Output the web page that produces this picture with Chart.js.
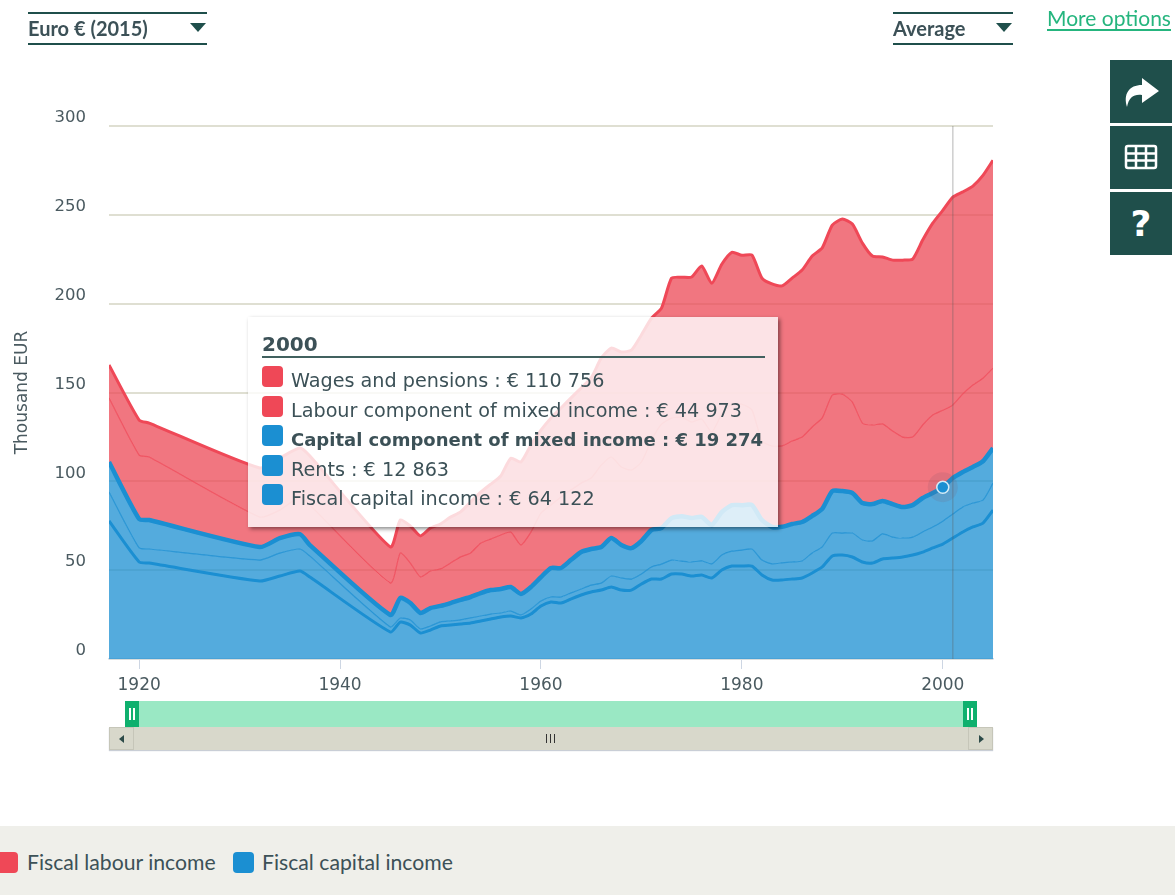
<!DOCTYPE html>
<html>
<head>
<meta charset="utf-8">
<title>Fiscal income</title>
<script src="https://cdn.jsdelivr.net/npm/chart.js@4/dist/chart.umd.min.js"></script>
<style>
    html, body { margin: 0; padding: 0; background: #fff; }
    body { position: relative; width: 1175px; height: 895px; overflow: hidden; font-family: Lato, sans-serif; color: #3c5157; }
    #incomeChart { position: absolute; left: 0; top: 0; }
    .select { position: absolute; top: 12px; height: 29px; border-top: 2px solid #1f4f4b; border-bottom: 2px solid #1f4f4b; font-weight: 700; font-size: 20px; line-height: 29px; color: #3c5157; }
    .select i { position: absolute; right: 1px; top: 9px; width: 0; height: 0; border-left: 8px solid transparent; border-right: 8px solid transparent; border-top: 9px solid #1f4f4b; }
    #more { position: absolute; left: 1047px; top: 6px; font-size: 21px; line-height: 23px; color: #25b57e; border-bottom: 2px solid #25b57e; }
    .btn { position: absolute; left: 1110px; width: 62px; height: 63px; background: #1f4f4b; color: #fff; text-align: center; }
    .btn svg { position: absolute; left: 0; top: 0; }
    #tip { position: absolute; left: 248px; top: 317px; width: 530px; height: 210px; background: rgba(255, 255, 255, 0.8); box-shadow: 2px 2px 4px rgba(0, 0, 0, 0.45); font-family: "DejaVu Sans", sans-serif; font-size: 19.2px; color: #3c5157; }
    #tip .head { position: absolute; left: 14px; top: 14px; width: 503px; height: 25px; border-bottom: 2px solid #41615f; font-weight: 700; font-size: 20px; line-height: 26px; }
    #tip .row { position: absolute; left: 14px; height: 22px; white-space: nowrap; line-height: 30px; padding-left: 29px; }
    .sw { position: absolute; left: 0; top: 0; width: 21px; height: 21px; border-radius: 4px; }
    #nav { position: absolute; left: 125px; top: 701px; width: 852px; height: 26px; background: #9ae8c4; }
    .handle { position: absolute; top: 0; width: 14px; height: 26px; background: #0fb06e; }
    .handle b { position: absolute; top: 7px; width: 2px; height: 12px; background: #fff; }
    #bar { position: absolute; left: 109px; top: 727px; width: 884px; height: 23px; background: #d8d8cb; box-shadow: 0 1px 1px #c9ced6; }
    .arrow { position: absolute; top: 0; width: 23px; height: 21px; border: 1px solid #c6c6b9; }
    .arrow i { position: absolute; top: 7px; width: 0; height: 0; border-top: 4px solid transparent; border-bottom: 4px solid transparent; }
    .grip { position: absolute; top: 7px; width: 1px; height: 9px; background: #333; }
    #legend { position: absolute; left: 0; top: 826px; width: 1175px; height: 69px; background: #efefea; font-size: 21.2px; }
    #legend span { position: absolute; top: 23px; line-height: 26px; }
    #legend .sw { top: 26px; }
</style>
</head>
<body>
<canvas id="incomeChart" width="1175" height="720"></canvas>

<div class="select" style="left:28px;width:179px">Euro € (2015)<i></i></div>
<div class="select" style="left:893px;width:120px">Average<i></i></div>
<div id="more">More options</div>

<div class="btn" style="top:60px">
    <svg width="62" height="63" viewBox="0 0 62 63"><path d="M32 18 L49 31 L32 43 L32 35 C24 34 19 37 17 47 C13 34 19 25 32 25 Z" fill="#fff"/></svg>
</div>
<div class="btn" style="top:126px">
    <svg width="62" height="63" viewBox="0 0 62 63"><g fill="none" stroke="#fff" stroke-width="2.5"><rect x="16" y="20" width="30" height="22" rx="2"/><path d="M16 27.5H46M16 34.5H46M26 20V42M36 20V42"/></g></svg>
</div>
<div class="btn" style="top:192px;font:700 36px/63px 'DejaVu Sans',sans-serif">?</div>

<div id="tip">
    <div class="head" id="tipHead"></div>
</div>

<div id="nav">
    <div class="handle" style="left:0"><b style="left:4px"></b><b style="left:8px"></b></div>
    <div class="handle" style="right:0"><b style="left:4px"></b><b style="left:8px"></b></div>
</div>
<div id="bar">
    <div class="arrow" style="left:0"><i style="left:9px;border-right:5px solid #2c4a48"></i></div>
    <div class="arrow" style="right:0"><i style="left:10px;border-left:5px solid #2c4a48"></i></div>
    <div class="grip" style="left:437px"></div><div class="grip" style="left:441px"></div><div class="grip" style="left:445px"></div>
</div>

<div id="legend">
    <div class="sw" style="left:-3px;background:#ef4857"></div><span style="left:27px">Fiscal labour income</span>
    <div class="sw" style="left:233px;background:#1b8fd2"></div><span style="left:262px">Fiscal capital income</span>
</div>

<script>
// years with a value, the early period is sparse
const years = [1917, 1920, 1921, 1932, 1934, 1936, 1937, 1945, 1946, 1947, 1948, 1949,
    1950, 1951, 1952, 1953, 1954, 1955, 1956, 1957, 1958, 1959,
    1960, 1961, 1962, 1963, 1964, 1965, 1966, 1967, 1968, 1969,
    1970, 1971, 1972, 1973, 1974, 1975, 1976, 1977, 1978, 1979,
    1980, 1981, 1982, 1983, 1984, 1985, 1986, 1987, 1988, 1989,
    1990, 1991, 1992, 1993, 1994, 1995, 1996, 1997, 1998, 1999,
    2000, 2001, 2002, 2003, 2004, 2005];

// thousand EUR
const fiscalCapital = [77.7, 54.6, 54.0, 43.9, 46.7, 49.5, 46.1, 15.2, 20.8, 19.1, 14.6, 16.3,
    18.6, 19.1, 19.7, 20.3, 21.4, 22.5, 23.6, 24.2, 23.1, 25.3,
    29.8, 32.1, 31.5, 33.8, 36.0, 37.7, 38.8, 40.5, 38.8, 38.8,
    42.2, 45.0, 45.0, 47.8, 47.8, 46.7, 47.3, 45.6, 50.1, 52.3,
    52.3, 52.3, 47.3, 44.5, 44.5, 45.0, 45.6, 48.4, 51.8, 58.0,
    58.5, 57.4, 54.6, 54.0, 56.3, 56.8, 57.4, 58.5, 60.2, 62.5,
    64.7, 68.1, 71.5, 74.3, 76.5, 83.8];
const rents = [16.3, 7.9, 7.9, 11.8, 12.9, 12.4, 11.8, 2.8, 2.3, 2.8, 2.3, 2.3,
    2.3, 2.3, 2.3, 2.8, 2.8, 2.8, 2.3, 2.8, 1.7, 2.8,
    2.8, 2.8, 3.4, 3.4, 3.4, 3.9, 3.9, 6.2, 6.8, 6.2,
    5.6, 6.8, 8.4, 7.9, 7.3, 7.9, 7.9, 7.9, 8.4, 8.4,
    9.0, 9.6, 8.4, 9.0, 9.6, 9.6, 9.6, 11.3, 11.3, 12.9,
    12.4, 13.5, 12.4, 12.4, 14.1, 11.8, 10.7, 10.1, 11.3, 11.8,
    12.9, 13.5, 14.1, 13.5, 12.9, 15.2];
const capitalMixed = [16.9, 16.3, 16.3, 7.3, 8.4, 8.4, 6.2, 6.8, 11.3, 9.6, 9.0, 10.1,
    9.0, 10.1, 11.3, 11.8, 12.9, 13.5, 13.5, 13.5, 11.8, 12.4,
    13.5, 16.3, 16.3, 18.6, 20.8, 20.3, 20.3, 21.4, 18.6, 17.4,
    18.6, 20.8, 20.3, 23.6, 25.3, 24.8, 24.8, 21.9, 24.2, 25.9,
    25.3, 24.8, 22.5, 20.8, 20.3, 21.4, 21.9, 20.8, 21.4, 23.6,
    23.6, 22.5, 20.8, 20.8, 18.6, 18.6, 17.4, 18.0, 19.1, 19.1,
    19.1, 20.3, 19.7, 20.3, 21.9, 19.7];
const labourMixed = [36.0, 36.0, 35.5, 16.9, 15.8, 20.8, 22.5, 18.0, 25.3, 22.5, 20.3, 20.8,
    20.8, 22.5, 24.2, 24.8, 28.1, 28.7, 30.4, 30.9, 27.6, 30.9,
    36.0, 35.5, 40.0, 39.4, 38.8, 40.0, 46.1, 45.6, 43.9, 43.9,
    44.5, 50.6, 58.5, 56.3, 55.7, 54.0, 55.1, 52.3, 55.1, 56.8,
    56.8, 53.5, 44.5, 45.6, 45.6, 46.7, 47.8, 50.1, 51.2, 54.0,
    54.6, 51.2, 45.0, 44.5, 43.3, 41.1, 39.4, 38.3, 41.1, 43.9,
    43.3, 41.1, 43.9, 46.1, 46.7, 45.0];
const wages = [18.6, 19.7, 19.1, 27.6, 29.3, 27.6, 27.6, 20.3, 18.6, 20.8, 23.1, 24.2,
    25.3, 25.9, 25.3, 28.7, 28.7, 30.9, 33.2, 41.6, 46.7, 49.0,
    46.7, 49.0, 50.1, 51.8, 53.5, 56.3, 60.2, 61.3, 64.7, 67.5,
    71.5, 68.6, 65.3, 78.8, 78.8, 81.6, 86.1, 83.8, 84.4, 85.5,
    83.8, 87.2, 91.7, 91.2, 90.0, 91.7, 94.0, 96.2, 95.7, 95.7,
    98.5, 100.2, 101.3, 95.1, 94.0, 96.2, 99.6, 100.2, 104.1, 108.0,
    112.5, 117.0, 113.7, 112.0, 114.2, 117.0];

const xTicks = [1920, 1940, 1960, 1980, 2000];
const yTicks = [0, 50, 100, 150, 200, 250, 300];

// what the hover box shows
const tipYear = 2000;
const crosshairYear = 2001;
const tipLabels = ['Wages and pensions', 'Labour component of mixed income', 'Capital component of mixed income', 'Rents', 'Fiscal capital income'];
const tipValues = ['110 756', '44 973', '19 274', '12 863', '64 122'];

const RED = '#ef4857';
const BLUE = '#1b8fd2';
const RED_FILL = 'rgba(236, 72, 85, 0.75)';
const BLUE_FILL = 'rgba(27, 143, 210, 0.75)';

function points(values) {
    return values.map(function (v, i) { return { x: years[i], y: v }; });
}

function area(label, values, line, fill, width, first) {
    return {
        label: label,
        data: points(values),
        borderColor: line,
        backgroundColor: fill,
        borderWidth: width,
        fill: first ? 'origin' : '-1',
        tension: 0.2,
        pointRadius: 0
    };
}

// crosshair and the highlighted point
const hoverPlugin = {
    id: 'hover',
    afterDatasetsDraw: function (chart) {
        const c = chart.ctx;
        const a = chart.chartArea;
        const xPix = chart.scales.x.getPixelForValue(crosshairYear);
        c.save();
        c.strokeStyle = 'rgba(90, 90, 90, 0.3)';
        c.lineWidth = 1.5;
        c.beginPath();
        c.moveTo(xPix, a.top);
        c.lineTo(xPix, a.bottom);
        c.stroke();

        const pt = chart.getDatasetMeta(2).data[years.indexOf(tipYear)];
        c.fillStyle = 'rgba(120, 80, 100, 0.15)';
        c.beginPath();
        c.arc(pt.x, pt.y, 15, 0, Math.PI * 2);
        c.fill();
        c.fillStyle = BLUE;
        c.strokeStyle = '#d5ecf7';
        c.lineWidth = 1.5;
        c.beginPath();
        c.arc(pt.x, pt.y, 6, 0, Math.PI * 2);
        c.fill();
        c.stroke();
        c.restore();
    }
};

new Chart(document.getElementById('incomeChart').getContext('2d'), {
    type: 'line',
    data: {
        datasets: [
            area('Fiscal capital income', fiscalCapital, BLUE, BLUE_FILL, 3, true),
            area('Rents', rents, 'rgba(27, 143, 210, 0.8)', BLUE_FILL, 1.2),
            area('Capital component of mixed income', capitalMixed, BLUE, BLUE_FILL, 4.5),
            area('Labour component of mixed income', labourMixed, 'rgba(239, 72, 87, 0.8)', RED_FILL, 1.2),
            area('Wages and pensions', wages, RED, RED_FILL, 3)
        ]
    },
    plugins: [hoverPlugin],
    options: {
        responsive: false,
        animation: false,
        events: [],
        layout: { padding: { left: 0, right: 182, top: 126, bottom: 0 } },
        plugins: { legend: { display: false }, tooltip: { enabled: false } },
        scales: {
            x: {
                type: 'linear',
                min: 1917,
                max: 2005,
                afterBuildTicks: function (scale) {
                    scale.ticks = xTicks.map(function (v) { return { value: v }; });
                },
                afterFit: function (scale) { scale.height = 61; },
                border: { display: true, color: '#d3dbe6', width: 1.5 },
                grid: { drawOnChartArea: false, color: '#cdd6e3', tickLength: 10 },
                ticks: {
                    maxRotation: 0,
                    autoSkip: false,
                    padding: 6,
                    color: '#4a5a60',
                    font: { family: 'DejaVu Sans', size: 17 },
                    callback: function (v) { return String(v); }
                }
            },
            y: {
                stacked: true,
                min: 0,
                max: 300,
                afterBuildTicks: function (scale) {
                    scale.ticks = yTicks.map(function (v) { return { value: v }; });
                },
                afterFit: function (scale) { scale.width = 109; },
                border: { display: false },
                grid: { color: '#dfdfd2', lineWidth: 2, drawTicks: false },
                ticks: {
                    padding: 23,
                    labelOffset: -8,
                    color: '#4a5a60',
                    font: { family: 'DejaVu Sans', size: 16.5 },
                    callback: function (v) { return String(v); }
                },
                title: {
                    display: true,
                    text: 'Thousand EUR',
                    color: '#4a5a60',
                    font: { family: 'DejaVu Sans', size: 17 },
                    padding: { top: 12, bottom: 0 }
                }
            }
        }
    }
});

// hover box rows
const tip = document.getElementById('tip');
document.getElementById('tipHead').textContent = tipYear;
tipLabels.forEach(function (label, i) {
    const row = document.createElement('div');
    row.className = 'row';
    row.style.top = (49 + i * 29.6) + 'px';
    if (i === 2) {
        row.style.fontWeight = '700';
        row.style.fontSize = '18px';
    }
    const sw = document.createElement('div');
    sw.className = 'sw';
    sw.style.background = i < 2 ? RED : BLUE;
    row.appendChild(sw);
    row.appendChild(document.createTextNode(label + ' : € ' + tipValues[i]));
    tip.appendChild(row);
});
</script>
</body>
</html>
